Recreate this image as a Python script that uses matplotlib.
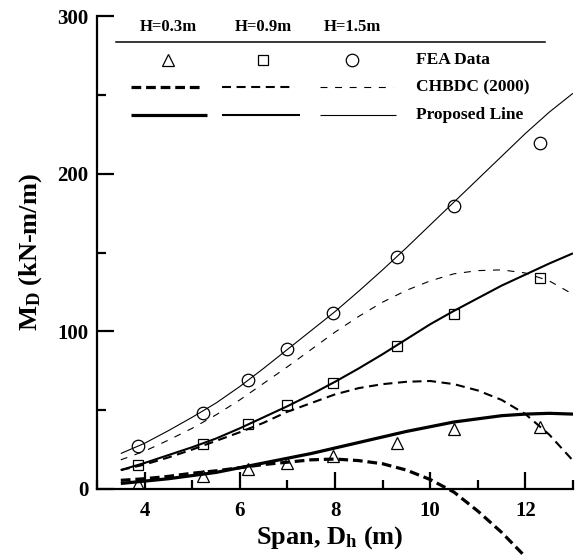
"""Moment M_D versus span: FEA data, CHBDC (2000) and proposed line."""

import matplotlib

matplotlib.use("Agg")
import matplotlib.pyplot as plt
from matplotlib.ticker import MultipleLocator

plt.rcParams["font.family"] = ["Liberation Serif", "DejaVu Serif"]
plt.rcParams["font.weight"] = "bold"
plt.rcParams["mathtext.fontset"] = "custom"
plt.rcParams["mathtext.rm"] = "Liberation Serif:bold"
plt.rcParams["mathtext.it"] = "Liberation Serif:bold"
plt.rcParams["mathtext.bf"] = "Liberation Serif:bold"
plt.rcParams["lines.scale_dashes"] = False

# ---- data ----
heights = ["H=0.3m", "H=0.9m", "H=1.5m"]

fea_span = [3.87, 5.22, 6.17, 7.0, 7.95, 9.3, 10.5, 12.31]
fea_h03 = [3.0, 8.0, 12.9, 16.5, 21.1, 29.2, 38.3, 39.3]
fea_h09 = [15.4, 28.5, 41.0, 53.5, 67.5, 90.7, 111.0, 134.1]
fea_h15 = [27.3, 48.4, 69.4, 89.1, 111.5, 147.2, 179.4, 219.6]

curve_span = [3.5, 4.0, 4.5, 5.0, 5.5, 6.0, 6.5, 7.0, 7.5, 8.0,
              8.5, 9.0, 9.5, 10.0, 10.5, 11.0, 11.5, 12.0, 12.5, 13.0]

prop_h03 = [3.5, 5.0, 6.5, 8.5, 10.5, 13.5, 16.5, 19.5, 22.5, 26.0,
            29.5, 33.0, 36.5, 39.5, 42.5, 44.5, 46.5, 47.5, 48.0, 47.5]
prop_h09 = [12.0, 16.5, 21.5, 26.5, 32.0, 38.5, 45.5, 52.5, 60.0, 68.0,
            76.5, 85.5, 95.0, 104.5, 113.0, 121.0, 129.0, 136.0, 143.0, 149.5]
prop_h15 = [22.5, 29.0, 37.0, 45.5, 54.5, 65.0, 76.5, 88.5, 100.5, 112.5,
            125.5, 139.0, 153.0, 167.5, 182.0, 196.5, 211.0, 225.5, 239.0, 251.0]

chbdc_span_h03 = curve_span[:18]
chbdc_h03 = [5.5, 6.5, 8.0, 10.0, 11.5, 13.5, 15.5, 17.0, 18.5, 19.0,
             18.0, 16.0, 12.0, 6.0, -2.0, -14.0, -27.5, -43.0]
chbdc_h09 = [12.0, 15.5, 20.0, 25.0, 30.5, 36.0, 42.0, 49.0, 54.5, 60.0,
             64.0, 66.5, 68.0, 68.5, 66.5, 62.5, 56.5, 47.5, 34.5, 18.0]
chbdc_h15 = [18.5, 24.0, 31.0, 38.5, 47.0, 56.5, 67.0, 77.5, 88.5, 99.5,
             109.5, 118.5, 126.0, 132.0, 136.5, 138.5, 139.0, 137.0, 132.0, 123.5]

# line styles per height: (linewidth, dash pattern)
widths = [2.3, 1.5, 0.8]
dashes = [(7, 3.5), (6.5, 4), (5, 5.5)]
markers = ["^", "s", "o"]
marker_sizes = [8, 7, 9]

fig = plt.figure(figsize=(5.76, 5.6), dpi=100)
ax = fig.add_axes([0.1684, 0.1268, 0.8264, 0.8446])

fea_series = [fea_h03, fea_h09, fea_h15]
prop_series = [prop_h03, prop_h09, prop_h15]
chbdc_series = [(chbdc_span_h03, chbdc_h03), (curve_span, chbdc_h09),
                (curve_span, chbdc_h15)]

for i in range(3):
    ax.plot(curve_span, prop_series[i], color="black", lw=widths[i],
            solid_capstyle="butt", solid_joinstyle="round")
    xs, ys = chbdc_series[i]
    ax.plot(xs, ys, color="black", lw=widths[i], dashes=dashes[i],
            dash_capstyle="butt", clip_on=(i != 0))
    ax.plot(fea_span, fea_series[i], linestyle="none", marker=markers[i],
            ms=marker_sizes[i], mfc="none", mec="black", mew=0.9)

ax.set_xlim(3, 13)
ax.set_ylim(0, 300)
ax.xaxis.set_major_locator(MultipleLocator(2))
ax.xaxis.set_minor_locator(MultipleLocator(1))
ax.yaxis.set_major_locator(MultipleLocator(100))
ax.yaxis.set_minor_locator(MultipleLocator(50))

for side in ["top", "right"]:
    ax.spines[side].set_visible(False)
for side in ["left", "bottom"]:
    ax.spines[side].set_linewidth(1.6)

ax.tick_params(which="major", direction="in", length=12, width=1.6,
               labelsize=15)
ax.tick_params(which="minor", direction="in", length=6.5, width=1.6)
ax.tick_params(axis="x", which="major", pad=9)
ax.tick_params(axis="y", which="major", pad=6)
ax.xaxis.set_ticks([4, 6, 8, 10, 12])

ax.set_xlabel(r"Span, D$_{\rm h}$ (m)", fontsize=19, fontweight="bold",
              labelpad=2)
ax.xaxis.label.set_x(0.488)
ax.set_ylabel(r"M$_{\rm D}$ (kN-m/m)", fontsize=19, fontweight="bold",
              labelpad=10)

# ---- hand-built legend table at the top ----
tr = ax.transAxes
col_x = [0.149, 0.349, 0.536]
for i in range(3):
    ax.text(col_x[i], 0.977, heights[i], transform=tr, ha="center",
            va="center", fontsize=12, fontweight="bold")
ax.plot([0.040, 0.941], [0.945, 0.945], transform=tr, color="black", lw=1.1)

dash_x = [(0.071, 0.223), (0.263, 0.416), (0.468, 0.622)]
solid_x = [(0.071, 0.231), (0.263, 0.426), (0.468, 0.628)]
for i in range(3):
    ax.plot([col_x[i]], [0.907], transform=tr, linestyle="none",
            marker=markers[i], ms=marker_sizes[i], mfc="none", mec="black",
            mew=0.9)
    ax.plot(dash_x[i], [0.850, 0.850], transform=tr, color="black",
            lw=widths[i], dashes=dashes[i], dash_capstyle="butt")
    ax.plot(solid_x[i], [0.791, 0.791], transform=tr, color="black",
            lw=widths[i], solid_capstyle="butt")

for label, y in [("FEA Data", 0.907), ("CHBDC (2000)", 0.850),
                 ("Proposed Line", 0.791)]:
    ax.text(0.670, y, label, transform=tr, ha="left", va="center",
            fontsize=12.5, fontweight="bold")

fig.savefig("out.png", dpi=100)
plt.close(fig)
